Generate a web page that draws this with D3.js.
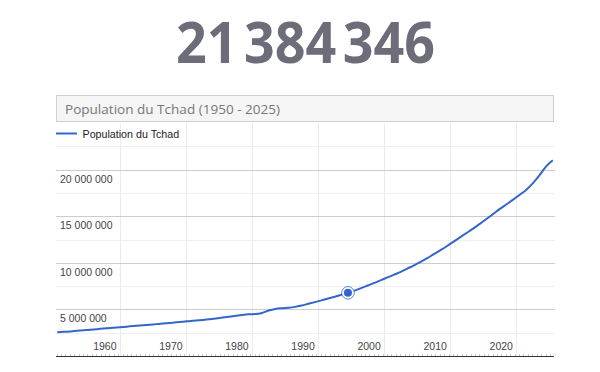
<!DOCTYPE html>
<html><head><meta charset="utf-8">
<script src="https://cdn.jsdelivr.net/npm/d3@7"></script>
<style>body{margin:0;background:#fff}svg{display:block}</style>
</head><body>
<svg id="c" width="600" height="372"></svg>
<script>
const bigNumber = "21 384 346";
const chartTitle = "Population du Tchad (1950 - 2025)";
const seriesName = "Population du Tchad";
const years = [1950,1951,1952,1953,1954,1955,1956,1957,1958,1959,1960,1961,1962,1963,1964,1965,1966,1967,1968,1969,1970,1971,1972,1973,1974,1975,1976,1977,1978,1979,1980,1981,1982,1983,1984,1985,1986,1987,1988,1989,1990,1991,1992,1993,1994,1995,1996,1997,1998,1999,2000,2001,2002,2003,2004,2005,2006,2007,2008,2009,2010,2011,2012,2013,2014,2015,2016,2017,2018,2019,2020,2021,2022,2023,2024,2025];
const population = [2540000,2590000,2640000,2700000,2760000,2820000,2880000,2940000,3000000,3060000,3120000,3180000,3240000,3300000,3360000,3420000,3480000,3550000,3610000,3680000,3740000,3800000,3870000,3950000,4030000,4120000,4210000,4310000,4410000,4480000,4500000,4620000,4880000,5050000,5130000,5180000,5270000,5420000,5600000,5780000,5970000,6160000,6360000,6570000,6780000,7020000,7280000,7560000,7840000,8140000,8430000,8730000,9030000,9380000,9730000,10100000,10500000,10920000,11350000,11800000,12280000,12750000,13220000,13700000,14200000,14720000,15250000,15780000,16280000,16780000,17300000,17850000,18550000,19400000,20350000,21000000];
const yTicks = [5000000,10000000,15000000,20000000];
const yMinor = [2500000,7500000,12500000,17500000,22500000];
const xTicks = [1960,1970,1980,1990,2000,2010,2020];
const highlightYear = 1994;

(function () {
const svg = d3.select("#c");
const pLeft = 56, pRight = 554, pTop = 123, pBottom = 356;
const x = d3.scaleLinear().domain([1960, 2000]).range([120, 384.3]);
const y = d3.scaleLinear().domain([0, 25000000]).range([pBottom, pTop]);
const fmt = v => d3.format(",")(v).replace(/,/g, " ");
const data = years.map((yr, i) => ({year: yr, t: yr + 0.5, v: population[i]}));

svg.append("text").attr("x", 176).attr("y", 63)
  .attr("font-family", "'Open Sans', sans-serif").attr("font-weight", 700)
  .attr("font-size", 57).attr("fill", "#6c6d79")
  .style("word-spacing", "-8px")
  .attr("textLength", 259).attr("lengthAdjust", "spacingAndGlyphs")
  .text(bigNumber);

svg.append("rect").attr("x", 56.5).attr("y", 95.5).attr("width", 497).attr("height", 26)
  .attr("fill", "#f5f5f5").attr("stroke", "#cfcfcf");
svg.append("text").attr("x", 65).attr("y", 113.5)
  .attr("font-family", "'Open Sans', sans-serif").attr("font-size", 13.5).attr("fill", "#777")
  .attr("textLength", 215).attr("lengthAdjust", "spacingAndGlyphs")
  .text(chartTitle);

const g = svg.append("g");
g.selectAll(".vg").data(xTicks).join("line")
  .attr("x1", d => Math.round(x(d)) + 0.5).attr("x2", d => Math.round(x(d)) + 0.5)
  .attr("y1", pTop).attr("y2", pBottom).attr("stroke", "#ebebeb");
g.selectAll(".hm").data(yMinor).join("line")
  .attr("x1", pLeft).attr("x2", pRight + 1)
  .attr("y1", d => Math.round(y(d)) + 0.5).attr("y2", d => Math.round(y(d)) + 0.5)
  .attr("stroke", "#eeeeee");
g.selectAll(".hg").data(yTicks).join("line")
  .attr("x1", pLeft).attr("x2", pRight + 1)
  .attr("y1", d => Math.round(y(d)) + 0.5).attr("y2", d => Math.round(y(d)) + 0.5)
  .attr("stroke", "#cccccc");

g.selectAll(".yl").data(yTicks).join("text")
  .attr("x", 60).attr("y", d => y(d) + 13)
  .attr("font-family", "Arial, 'Liberation Sans', sans-serif").attr("font-size", 10.5)
  .attr("fill", "#444").text(fmt);

g.selectAll(".xl").data(xTicks).join("text")
  .attr("x", d => x(d) - 3.5).attr("y", 350)
  .attr("text-anchor", "end")
  .attr("font-family", "Arial, 'Liberation Sans', sans-serif").attr("font-size", 10.5)
  .attr("fill", "#444").text(d => d);

const minorTicks = d3.range(1950.4, 2026, 2 / 3);
g.selectAll(".mt").data(minorTicks.filter(t => x(t) >= pLeft && x(t) <= pRight)).join("line")
  .attr("x1", d => Math.round(x(d)) + 0.5).attr("x2", d => Math.round(x(d)) + 0.5)
  .attr("y1", pBottom - 2).attr("y2", pBottom).attr("stroke", "#c8c8c8");
g.append("line").attr("x1", pLeft).attr("x2", pRight).attr("y1", pBottom + 0.5).attr("y2", pBottom + 0.5)
  .attr("stroke", "#333").attr("stroke-width", 1.2);

svg.append("line").attr("x1", 56).attr("x2", 77).attr("y1", 133.5).attr("y2", 133.5)
  .attr("stroke", "#3366cc").attr("stroke-width", 2);
svg.append("text").attr("x", 82.5).attr("y", 137.5)
  .attr("font-family", "Arial, 'Liberation Sans', sans-serif").attr("font-size", 10.7)
  .attr("fill", "#222").text(seriesName);

const line = d3.line().x(d => x(d.t)).y(d => y(d.v)).curve(d3.curveMonotoneX);
svg.append("path").datum(data).attr("d", line)
  .attr("fill", "none").attr("stroke", "#3366cc").attr("stroke-width", 2)
  .attr("stroke-linejoin", "round");

const hp = data.find(d => d.year === highlightYear);
svg.append("circle").attr("cx", x(hp.t)).attr("cy", y(hp.v)).attr("r", 6.3)
  .attr("fill", "#fff").attr("stroke", "#3366cc").attr("stroke-width", 1).attr("stroke-opacity", 0.8);
svg.append("circle").attr("cx", x(hp.t)).attr("cy", y(hp.v)).attr("r", 4)
  .attr("fill", "#3366cc");
})();
</script>
</body></html>
